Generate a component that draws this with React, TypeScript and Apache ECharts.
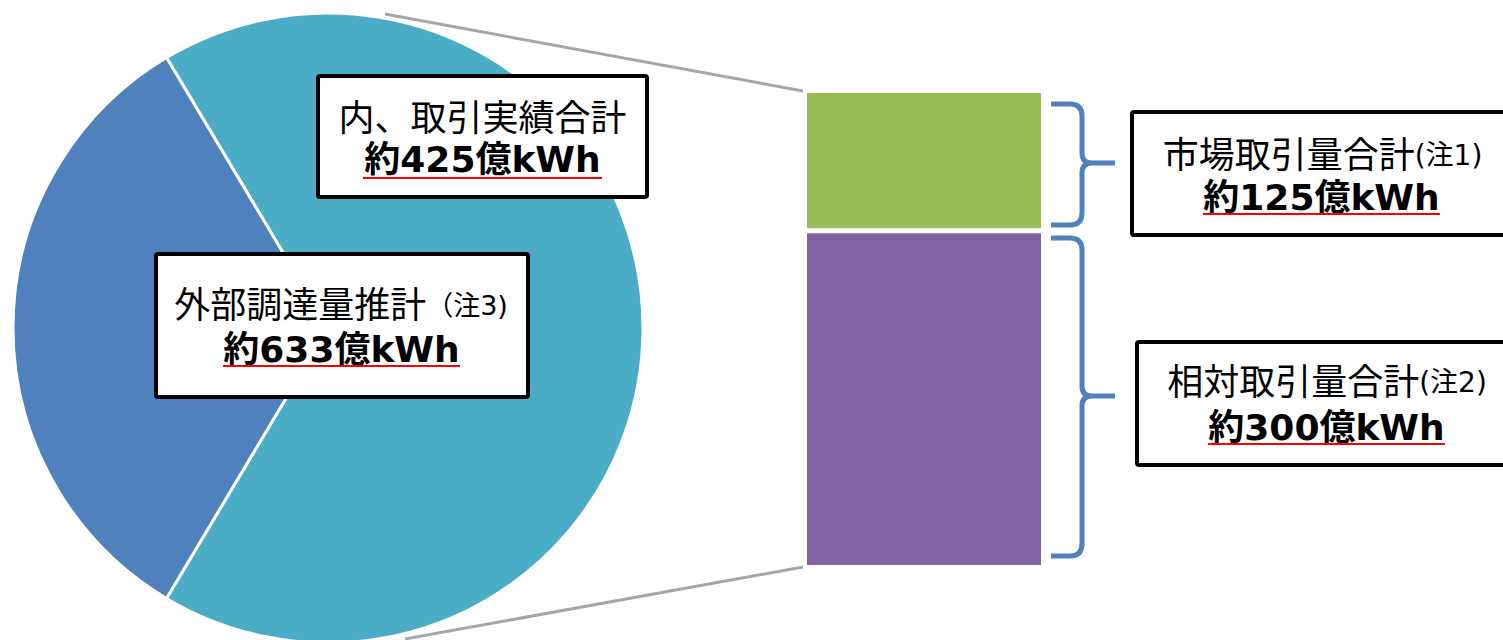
import React, { useEffect, useRef } from "react";
import * as echarts from "echarts";

// ---- data ----
const pieNames = ["内、取引実績合計", "外部調達量推計（注3)"];
const pieTotal = 633;
const pieTraded = 425;
const pieValues = [pieTraded, pieTotal - pieTraded]; // teal, blue
const pieColors = ["#4BACC6", "#4F81BD"];

const barCategory = ["取引実績"];
const barNames = ["相対取引量合計", "市場取引量合計"];
const barNotes = ["(注2)", "(注1)"];
const barValues = [300, 125]; // bottom (purple), top (green)
const barColors = ["#8064A2", "#9BBB59"];

const fmt = (v: number) => `約${v}億kWh`;

function bracePath(x0: number, xv: number, xt: number, top: number, mid: number, bot: number) {
  return [
    `M${x0},${top} L${xv - 12},${top} Q${xv},${top} ${xv},${top + 12}`,
    `L${xv},${mid - 10} Q${xv},${mid} ${xv + 10},${mid} L${xt},${mid}`,
    `M${xv + 10},${mid} Q${xv},${mid} ${xv},${mid + 10}`,
    `L${xv},${bot - 12} Q${xv},${bot} ${xv - 12},${bot} L${x0},${bot}`,
  ].join(" ");
}

echarts.graphic.registerShape("braceTop", echarts.graphic.extendPath(bracePath(1051, 1082, 1115, 104, 163, 225), {}));
echarts.graphic.registerShape("braceBot", echarts.graphic.extendPath(bracePath(1051, 1082, 1115, 238, 396, 556), {}));

const FONT = "'DejaVu Sans', 'Noto Sans CJK JP', sans-serif";

function labelBox(
  rect: { x: number; y: number; w: number; h: number },
  l1: { x: number; y: number; main: string; note: string; noteSize: number },
  l2: { x: number; y: number; text: string; u: [number, number, number] }
): any[] {
  return [
    {
      type: "rect",
      z: 100,
      shape: { x: rect.x, y: rect.y, width: rect.w, height: rect.h, r: 2 },
      style: { fill: "#FFFFFF", stroke: "#000000", lineWidth: 4 },
    },
    {
      type: "text",
      z: 101,
      x: l1.x,
      y: l1.y,
      style: {
        text: `{a|${l1.main}}{b|${l1.note}}`,
        align: "center",
        verticalAlign: "middle",
        fill: "#000",
        rich: {
          a: { fontSize: 36, fontFamily: FONT, fill: "#000" },
          b: { fontSize: l1.noteSize, fontFamily: FONT, fill: "#000" },
        },
      },
    },
    {
      type: "text",
      z: 101,
      x: l2.x,
      y: l2.y,
      style: {
        text: l2.text,
        align: "center",
        verticalAlign: "middle",
        fill: "#000",
        fontSize: 36,
        fontWeight: "bold",
        fontFamily: FONT,
      },
    },
    {
      type: "line",
      z: 101,
      shape: { x1: l2.u[0], y1: l2.u[2], x2: l2.u[1], y2: l2.u[2] },
      style: { stroke: "#FF0000", lineWidth: 2 },
    },
  ];
}

export default function App() {
  const ref = useRef<HTMLDivElement>(null);
  useEffect(() => {
    if (!ref.current) return;
    const chart = echarts.init(ref.current, null, { renderer: "svg" });
    const tealAngle = (pieTraded / pieTotal) * 360;
    const option: any = {
      animation: false,
      grid: { left: 804.5, top: 90.5, width: 239, height: 477 },
      xAxis: { type: "category", data: barCategory, show: false },
      yAxis: { type: "value", min: 0, max: barValues[0] + barValues[1], show: false },
      series: [
        {
          type: "pie",
          center: [328, 328],
          radius: 315,
          startAngle: tealAngle / 2,
          clockwise: true,
          label: { show: false },
          labelLine: { show: false },
          itemStyle: { borderColor: "#FFFFFF", borderWidth: 3 },
          data: pieNames.map((n, i) => ({ name: n, value: pieValues[i], itemStyle: { color: pieColors[i] } })),
        },
        ...barNames.map((n, i) => ({
          type: "bar",
          name: n,
          stack: "s",
          barWidth: "100%",
          data: [barValues[i]],
          itemStyle: { color: barColors[i], borderColor: "#FFFFFF", borderWidth: 2.5 },
        })),
      ],
      graphic: [
        {
          type: "line",
          z: 1,
          shape: { x1: 385, y1: 14, x2: 803, y2: 91 },
          style: { stroke: "#A6A6A6", lineWidth: 3 },
        },
        {
          type: "line",
          z: 1,
          shape: { x1: 405, y1: 639, x2: 803, y2: 567 },
          style: { stroke: "#A6A6A6", lineWidth: 3 },
        },
        { type: "braceTop", x: 0, y: 0, style: { fill: "none", stroke: "#4F81BD", lineWidth: 5 } },
        { type: "braceBot", x: 0, y: 0, style: { fill: "none", stroke: "#4F81BD", lineWidth: 5 } },
        ...labelBox(
          { x: 318, y: 76, w: 329, h: 121 },
          { x: 482.5, y: 118, main: pieNames[0], note: "", noteSize: 24 },
          { x: 482.5, y: 159, text: fmt(pieTraded), u: [363, 602, 178] }
        ),
        ...labelBox(
          { x: 156, y: 254, w: 372, h: 143 },
          { x: 341, y: 305, main: "外部調達量推計", note: "（注3)", noteSize: 27 },
          { x: 341.5, y: 349, text: fmt(pieTotal), u: [223, 460, 366] }
        ),
        ...labelBox(
          { x: 1132, y: 112, w: 390, h: 123 },
          { x: 1322.5, y: 155, main: barNames[1], note: barNotes[1], noteSize: 28 },
          { x: 1321.5, y: 197, text: fmt(barValues[1]), u: [1203, 1440, 214] }
        ),
        ...labelBox(
          { x: 1137, y: 342, w: 390, h: 123 },
          { x: 1327, y: 382, main: barNames[0], note: barNotes[0], noteSize: 28 },
          { x: 1326.5, y: 427, text: fmt(barValues[0]), u: [1208, 1445, 444] }
        ),
      ],
    };
    chart.setOption(option);
    return () => chart.dispose();
  }, []);
  return (
    <div
      ref={ref}
      style={{ position: "absolute", left: 0, top: 0, width: 1503, height: 640, background: "#FFFFFF" }}
    />
  );
}
